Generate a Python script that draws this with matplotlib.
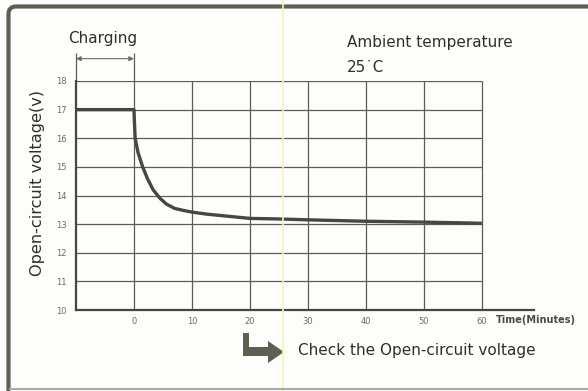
import matplotlib.pyplot as plt
from matplotlib.patches import Polygon, PathPatch
from matplotlib.path import Path
from matplotlib.transforms import IdentityTransform
from matplotlib.lines import Line2D

# === Data ===
time_min = [-10, 0, 0.05, 0.2, 0.7, 1.5, 2.3, 3.3, 4.5, 5.6, 7, 8.5, 10,
            12.5, 15, 20, 25, 30, 40, 50, 60]
voltage = [17.0, 17.0, 16.7, 16.0, 15.5, 15.0, 14.6, 14.2, 13.9, 13.7, 13.55,
           13.48, 13.42, 13.35, 13.3, 13.2, 13.18, 13.15, 13.1, 13.07, 13.03]
x_ticks = [0, 10, 20, 30, 40, 50, 60]
y_ticks = [10, 11, 12, 13, 14, 15, 16, 17, 18]
charge_span = (-10, 0)

INK = '#45483f'
GRID = '#5a5c55'
TICK = '#6a6a66'
FRAME = '#5c6052'
TEXT = '#2f302c'

plt.rcParams['font.family'] = ['DejaVu Sans']

fig = plt.figure(figsize=(5.88, 3.91), dpi=100, facecolor='#fdfdfb')
ax = fig.add_axes([76 / 588, 1 - 310 / 391, (534 - 76) / 588, (310 - 81) / 391])
ax.set_facecolor('none')
ax.set_xlim(-10, 69)
ax.set_ylim(10, 18)

# grid (stops at t=60, bottom axis runs past it)
ax.hlines(y_ticks[1:], -10, 60, color=GRID, lw=0.9, zorder=1)
ax.vlines(x_ticks, 10, 18, color=GRID, lw=0.9, zorder=1)

for side in ('top', 'right'):
    ax.spines[side].set_visible(False)
for side in ('left', 'bottom'):
    ax.spines[side].set_color(INK)
    ax.spines[side].set_linewidth(1.6)

ax.plot(time_min, voltage, color=INK, lw=2.4, solid_joinstyle='round',
        solid_capstyle='butt', zorder=3)

ax.set_xticks(x_ticks)
ax.set_yticks(y_ticks)
ax.tick_params(length=0, labelsize=6, labelcolor=TICK)
ax.tick_params(axis='x', pad=5)
ax.tick_params(axis='y', pad=7)

fig.text(38 / 588, 1 - 183.5 / 391, 'Open-circuit voltage(v)', fontsize=11.6,
         color=TEXT, rotation=90, va='center', ha='center')
ax.text(62.5, 9.66, 'Time(Minutes)', fontsize=7, color='#4a4a46',
        fontweight='semibold', va='center', ha='left', clip_on=False)

# charging bracket above the plot
ax.vlines(list(charge_span), 18, 18.98, color=GRID, lw=0.9, clip_on=False)
ax.annotate('', xy=(charge_span[0], 18.78), xytext=(charge_span[1], 18.78),
            arrowprops=dict(arrowstyle='<|-|>', color='#6a6c64', lw=0.8,
                            mutation_scale=7, shrinkA=0, shrinkB=0),
            annotation_clip=False)
fig.text(68 / 588, 1 - 38 / 391, 'Charging', fontsize=11, color=TEXT,
         va='center', ha='left')

fig.text(347 / 588, 1 - 43 / 391, 'Ambient temperature', fontsize=11,
         color=TEXT, va='center', ha='left')
fig.text(347 / 588, 1 - 68 / 391, '25\u02d9C', fontsize=11,
         color=TEXT, va='center', ha='left')

# bent arrow pointing at the note below the chart
px = IdentityTransform()
H = 391
arrow = Polygon([(243, H - 333), (249, H - 333), (249, H - 347),
                 (268, H - 347), (268, H - 341), (284, H - 352),
                 (268, H - 363), (268, H - 356), (243, H - 356)],
                closed=True, transform=px, facecolor=FRAME, edgecolor='none')
fig.patches.append(arrow)
fig.text(298 / 588, 1 - 351 / 391, 'Check the Open-circuit voltage',
         fontsize=11, color=TEXT, va='center', ha='left')

# faint fold crease
fig.lines.append(Line2D([283, 283], [0, H], transform=px, color='#fbf1b8',
                        lw=1.2))

# page frame: heavy top and left edges with a rounded corner, light bottom rule
corner = Path([(8.5, -5), (8.5, H - 14), (8.5, H - 6.5), (16, H - 6.5),
               (600, H - 6.5)],
              [Path.MOVETO, Path.LINETO, Path.CURVE3, Path.CURVE3, Path.LINETO])
fig.patches.append(PathPatch(corner, transform=px, facecolor='none',
                             edgecolor=FRAME, lw=3))
fig.lines.append(Line2D([10, 588], [2, 2], transform=px, color='#a8aaa4',
                        lw=1.5))

fig.savefig('out.png', dpi=100, facecolor=fig.get_facecolor())
